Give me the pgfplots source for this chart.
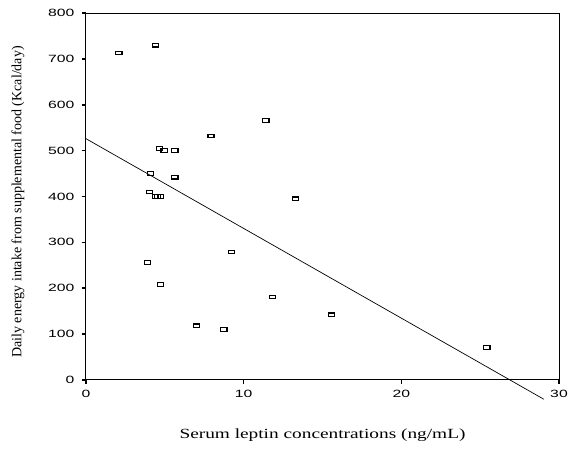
\documentclass[border=0pt]{standalone}
\usepackage{pgfplots}
\pgfplotsset{compat=1.18}
\usepackage{fontspec}
\setmainfont{Liberation Serif}
\newfontfamily\arialfont{Liberation Sans}
\begin{document}
\begin{tikzpicture}
\begin{axis}[
  scale only axis,
  width=473pt, height=367pt,
  xmin=0, xmax=30, ymin=0, ymax=800,
  xtick={0,10,20,30}, ytick={0,100,...,800},
  tick align=outside,
  xtick pos=bottom, ytick pos=left,
  major tick length=4pt,
  tick style={line width=1.6pt, black},
  axis line style={line width=1pt},
  /pgf/number format/assume math mode=true,
  ticklabel style={font=\arialfont\fontsize{10.5}{10.5}\selectfont},
  xticklabel={\scalebox{1.5}[1]{\pgfmathprintnumber{\tick}}},
  yticklabel={\scalebox{1.5}[1]{\pgfmathprintnumber{\tick}}},
  yticklabel style={xshift=-4pt},
  xticklabel style={yshift=-3pt},
  xlabel={\scalebox{1.38}[1]{Serum leptin concentrations (ng/mL)}},
  ylabel={Daily energy intake from supplemental food (Kcal/day)},
  xlabel style={font=\fontsize{14}{14}\selectfont, at={(axis description cs:0.5,-0.15)}, anchor=center},
  ylabel style={font=\fontsize{14}{14}\selectfont, at={(axis description cs:-0.144,0.485)}, anchor=center},
  clip=false,
]
\addplot[only marks, mark=square, mark size=1.8pt, mark options={xscale=1.7, line width=1.2pt, black}] coordinates {
(2.09,713) (4.42,730) (4.65,505) (4.95,500) (5.64,500) (5.64,442)
(7.93,532) (11.41,566) (4.10,450) (4.04,410) (4.40,400) (4.55,400) (4.72,400)
(13.3,395) (3.91,256) (4.73,208) (7.02,118) (8.75,110) (9.24,279)
(11.81,181) (15.58,142) (25.43,71)
};
\addplot[black, line width=0.7pt] coordinates {(0,526) (29.04,-42)};
\end{axis}
\path (current axis.south west) ++(-86pt,-69pt) rectangle ++(573pt,449pt);
\end{tikzpicture}
\end{document}
